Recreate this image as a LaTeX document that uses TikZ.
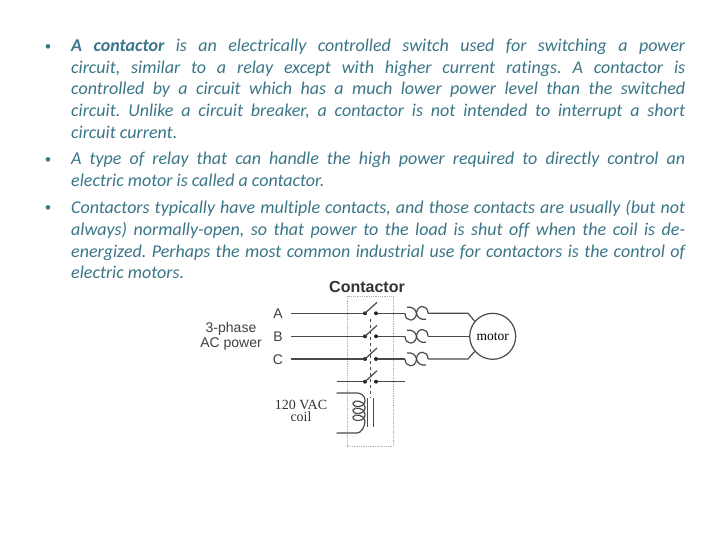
\documentclass[tikz,border=0pt]{standalone}
\usepackage{fontspec}
\setmainfont[Ligatures=NoCommon]{Carlito}
\newfontfamily\diagsans{Liberation Sans}
\newfontfamily\diagserif{Liberation Serif}
\usepackage{xcolor}
\definecolor{slidetext}{HTML}{3A7688}
\definecolor{wire}{HTML}{4A4A4A}
\tikzset{
  bullettext/.style={anchor=north west, inner sep=0pt, text width=614pt, align=justify,
    text=slidetext, font=\fontsize{18}{21.6}\selectfont\itshape\frenchspacing},
  bulletmark/.style={inner sep=0pt, text=slidetext, font=\fontsize{13}{13}\selectfont},
  wireline/.style={draw=wire, line width=1.2pt},
  contact/.style={circle, fill=black!85, inner sep=0pt, minimum size=4pt},
  contactorbox/.style={draw=black!30, line width=0.8pt, densely dotted},
  heater/.pic={
    \coordinate (-in) at (0,0);
    \coordinate (-out) at (23,0);
    \draw[wireline] (0,0) .. controls (0,9) and (11,9) .. (11.5,0)
      .. controls (12,-9) and (23,-9) .. (23,0);
    \draw[wireline] (2,-6) .. controls (7,-7) and (11,-4) .. (11.5,0);
    \draw[wireline] (21,6) .. controls (16,7) and (12,4) .. (11.5,0);
  }
}
\begin{document}
\begin{tikzpicture}[x=1pt,y=-1pt]
    \useasboundingbox[fill=white] (0,0) rectangle (728,546);

    % text
    \node[bulletmark] (mark1) at (48,47.5) {•};
    \node[bullettext] (para1) at (71,39) {\textbf{A contactor} is an electrically controlled switch used for switching a power\linebreak
      circuit, similar to a relay except with higher current ratings. A contactor is\linebreak
      controlled by a circuit which has a much lower power level than the switched\linebreak
      circuit. Unlike a circuit breaker, a contactor is not intended to interrupt a short\linebreak
      circuit current.};
    \node[bulletmark] (mark2) at (48,161) {•};
    \node[bullettext] (para2) at (71,152) {A type of relay that can handle the high power required to directly control an\linebreak
      electric motor is called a contactor.};
    \node[bulletmark] (mark3) at (48,209) {•};
    \node[bullettext] (para3) at (71,200.5) {Contactors typically have multiple contacts, and those contacts are usually (but not\linebreak
      always) normally-open, so that power to the load is shut off when the coil is de-\linebreak
      energized. Perhaps the most common industrial use for contactors is the control of\linebreak
      electric motors.};

    % contactor
    \node[font=\diagsans\bfseries\fontsize{16}{16}\selectfont, text=black!80] (title) at (367,287) {Contactor};
    \draw[contactorbox] (347,296) rectangle (393,446);

    \node[font=\diagsans\fontsize{14}{14}\selectfont, text=black!75] (labA) at (278,314) {A};
    \node[font=\diagsans\fontsize{14}{14}\selectfont, text=black!75] (labB) at (278,337) {B};
    \node[font=\diagsans\fontsize{14}{14}\selectfont, text=black!75] (labC) at (278,360) {C};
    \node[font=\diagsans\fontsize{14}{15}\selectfont, text=black!75, align=center] (labsupply) at (231,336.5) {3-phase\\AC power};
    \node[font=\diagserif\fontsize{14}{12.5}\selectfont, text=black!80, align=center] (labcoil) at (301,411) {120 VAC\\coil};

    \node[draw=wire, line width=1.2pt, circle, minimum size=46pt, inner sep=0pt, font=\diagserif\fontsize{13.5}{13.5}\selectfont] (motor) at (492.7,336.3) {motor};

    % line A
    \coordinate (inA) at (291,313.3);
    \node[contact] (la) at (365,313.3) {};
    \node[contact] (ra) at (376,313.3) {};
    \pic (hA) at (405,313.3) {heater};
    \coordinate (bendA) at (468,313.3);
    \draw[wireline] (inA) -- (la);
    \draw[wireline] (la.center) -- ++(12,-11);
    \draw[wireline] (ra) -- (hA-in);
    \draw[wireline] (hA-out) -- (bendA) -- (motor.140);

    % line B
    \coordinate (inB) at (291,336.3);
    \node[contact] (lb) at (365,336.3) {};
    \node[contact] (rb) at (376,336.3) {};
    \pic (hB) at (405,336.3) {heater};
    \draw[wireline] (inB) -- (lb);
    \draw[wireline] (lb.center) -- ++(12,-11);
    \draw[wireline] (rb) -- (hB-in);
    \draw[wireline] (hB-out) -- (motor);

    % line C
    \coordinate (inC) at (291,359);
    \node[contact] (lc) at (365,359) {};
    \node[contact] (rc) at (376,359) {};
    \pic (hC) at (405,359) {heater};
    \coordinate (bendC) at (468,359);
    \draw[wireline] (inC) -- (lc);
    \draw[wireline] (lc.center) -- ++(12,-11);
    \draw[wireline] (rc) -- (hC-in);
    \draw[wireline] (hC-out) -- (bendC) -- (motor.220);

    % auxiliary contact
    \coordinate (inD) at (336.7,381.7);
    \coordinate (outD) at (405,381.7);
    \node[contact] (ld) at (365,381.7) {};
    \node[contact] (rd) at (376,381.7) {};
    \draw[wireline] (inD) -- (ld);
    \draw[wireline] (ld.center) -- ++(12,-11);
    \draw[wireline] (rd) -- (outD);

    % coil
    \coordinate (coiltop) at (336.5,393);
    \coordinate (coilbot) at (336.5,433);
    \coordinate (coreL) at (367.7,398);
    \coordinate (coreR) at (373.3,398);
    \draw[wireline] (coiltop) -- (357,393) .. controls (361,393) and (365,396) .. (365,400)
      .. controls (366,408) and (352,408) .. (353,403) .. controls (354,399) and (365,401) .. (365,407)
      .. controls (366,415) and (352,415) .. (353,410) .. controls (354,406) and (365,408) .. (365,414)
      .. controls (366,422) and (352,422) .. (353,417) .. controls (354,413) and (365,415) .. (365,421)
      .. controls (365,427) and (361,433) .. (357,433) -- (coilbot);
    \draw[wireline] (coreL) -- ++(0,29);
    \draw[wireline] (coreR) -- ++(0,29);
    \draw[wire, line width=1.2pt, dashed] (370.4,319) -- (370.4,398);
\end{tikzpicture}
\end{document}
